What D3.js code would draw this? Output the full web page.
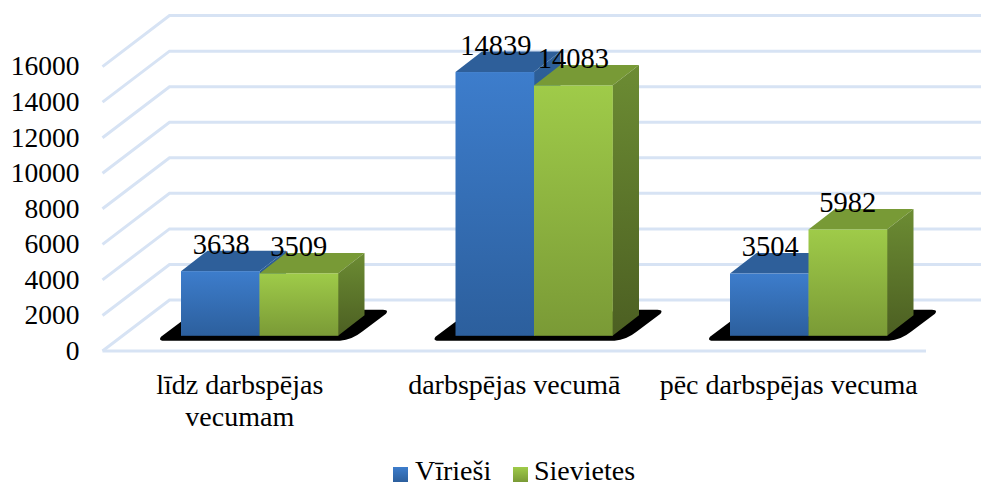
<!DOCTYPE html>
<html><head><meta charset="utf-8">
<script src="https://cdnjs.cloudflare.com/ajax/libs/d3/7.8.5/d3.min.js"></script>
<style>html,body{margin:0;padding:0;background:#fff}svg{display:block}text{font-family:"Liberation Serif",serif;fill:#000}</style>
</head><body><div id="c"></div>
<script>
const categories = ["līdz darbspējas vecumam", "darbspējas vecumā", "pēc darbspējas vecuma"];
const seriesNames = ["Vīrieši", "Sievietes"];
const maleValues = [3638, 14839, 3504];
const femaleValues = [3509, 14083, 5982];
const yTicks = [0, 2000, 4000, 6000, 8000, 10000, 12000, 14000, 16000];
const seriesValues = [maleValues, femaleValues];

const W = 981, H = 486;
const svg = d3.select("#c").append("svg").attr("width", W).attr("height", H);
const defs = svg.append("defs");
const palette = [
  {id:"s0", front:["#3d7dcc","#2c5f9d"], top:"#2e5f9a", side:["#2e6099","#264f80"]},
  {id:"s1", front:["#9fcb49","#7a9a36"], top:"#789a36", side:["#6c8c33","#4c5f22"]}
];
palette.forEach(p => {
  const f = defs.append("linearGradient").attr("id", p.id + "f").attr("x1",0).attr("y1",0).attr("x2",0).attr("y2",1);
  f.append("stop").attr("offset",0).attr("stop-color",p.front[0]);
  f.append("stop").attr("offset",1).attr("stop-color",p.front[1]);
  const s = defs.append("linearGradient").attr("id", p.id + "s").attr("x1",0).attr("y1",0).attr("x2",0).attr("y2",1);
  s.append("stop").attr("offset",0).attr("stop-color",p.side[0]);
  s.append("stop").attr("offset",1).attr("stop-color",p.side[1]);
});

const y = d3.scaleLinear().domain([0,16000]).range([351,66.6]);
const x = d3.scaleBand().domain(categories).range([102.5,926]);
const xs = d3.scaleBand().domain(d3.range(seriesNames.length)).range([78.5,78.5+157]);
const wallDX = 67, wallDY = 51, barDX = 26.5, barDY = 20.5, floorLift = 15.2;
const gridColor = "#d7e3f4";

// walls
const grid = svg.append("g").attr("fill","none").attr("stroke",gridColor).attr("stroke-width",3);
yTicks.forEach(t => {
  grid.append("polyline").attr("points",[[x.range()[0],y(t)],[x.range()[0]+wallDX,y(t)-wallDY],[W,y(t)-wallDY]].join(" "));
});
grid.append("line").attr("x1",x.range()[0]).attr("x2",x.range()[1]).attr("y1",y(0)).attr("y2",y(0));

// axis labels
const axis = svg.append("g").attr("transform","translate(79.5,-0.5)")
  .call(d3.axisLeft(y).tickValues(yTicks).tickFormat(d3.format("d")).tickSize(0).tickPadding(0));
axis.select(".domain").remove();
axis.selectAll("text").style("font-family",'"Liberation Serif",serif').style("font-size","27.5px").attr("dy","0.32em").attr("fill","#000");

// shadows + bars
const base = y(0) - floorLift;
categories.forEach((c,i) => {
  const x0 = x(c) + xs(0), x1 = x(c) + xs(1) + xs.bandwidth();
  svg.append("path").attr("fill","#000").attr("d",
    `M${x0},${base-14} L${x0-20},${base+1} Q${x0-23},${base+5} ${x0-17},${base+5} L${x1+2},${base+5}
     Q${x1+14},${base+4} ${x1+24},${base-4} L${x1+48},${base-22} Q${x1+51},${base-26} ${x1+45},${base-26} L${x1+26},${base-26} Z`);
  seriesValues.forEach((vals,s) => {
    const p = palette[s], l = x(c)+xs(s), r = l+xs.bandwidth(), t = y(vals[i]) - floorLift;
    const g = svg.append("g");
    g.append("path").attr("fill",p.top).attr("d",`M${l},${t} L${l+barDX},${t-barDY} L${r+barDX},${t-barDY} L${r},${t} Z`);
    g.append("path").attr("fill",`url(#${p.id}s)`).attr("d",`M${r},${t} L${r+barDX},${t-barDY} L${r+barDX},${base-barDY} L${r},${base} Z`);
    g.append("rect").attr("x",l).attr("y",t).attr("width",xs.bandwidth()+0.3).attr("height",base-t).attr("fill",`url(#${p.id}f)`);
  });
});
// data labels above everything
categories.forEach((c,i) => {
  seriesValues.forEach((vals,s) => {
    svg.append("text").attr("x",x(c)+xs(s)+xs.bandwidth()/2+(s?0:1)).attr("y",y(vals[i])-floorLift-17.5)
      .attr("text-anchor","middle").attr("font-size",28.5).text(vals[i]);
  });
});
// category labels (wrapped)
const catLines = [["līdz darbspējas","vecumam"],["darbspējas vecumā"],["pēc darbspējas vecuma"]];
categories.forEach((c,i) => {
  catLines[i].forEach((ln,k) => {
    svg.append("text").attr("x",x(c)+x.bandwidth()/2).attr("y",394+k*32)
      .attr("text-anchor","middle").attr("font-size",28).text(ln);
  });
});
// legend
const legendX = [393,513], legendTextX = [415,534];
seriesNames.forEach((n,s) => {
  svg.append("rect").attr("x",legendX[s]).attr("y",467).attr("width",15).attr("height",15).attr("fill",`url(#${palette[s].id}f)`);
  svg.append("text").attr("x",legendTextX[s]).attr("y",479.8).attr("font-size",28).text(n);
});
</script></body></html>
